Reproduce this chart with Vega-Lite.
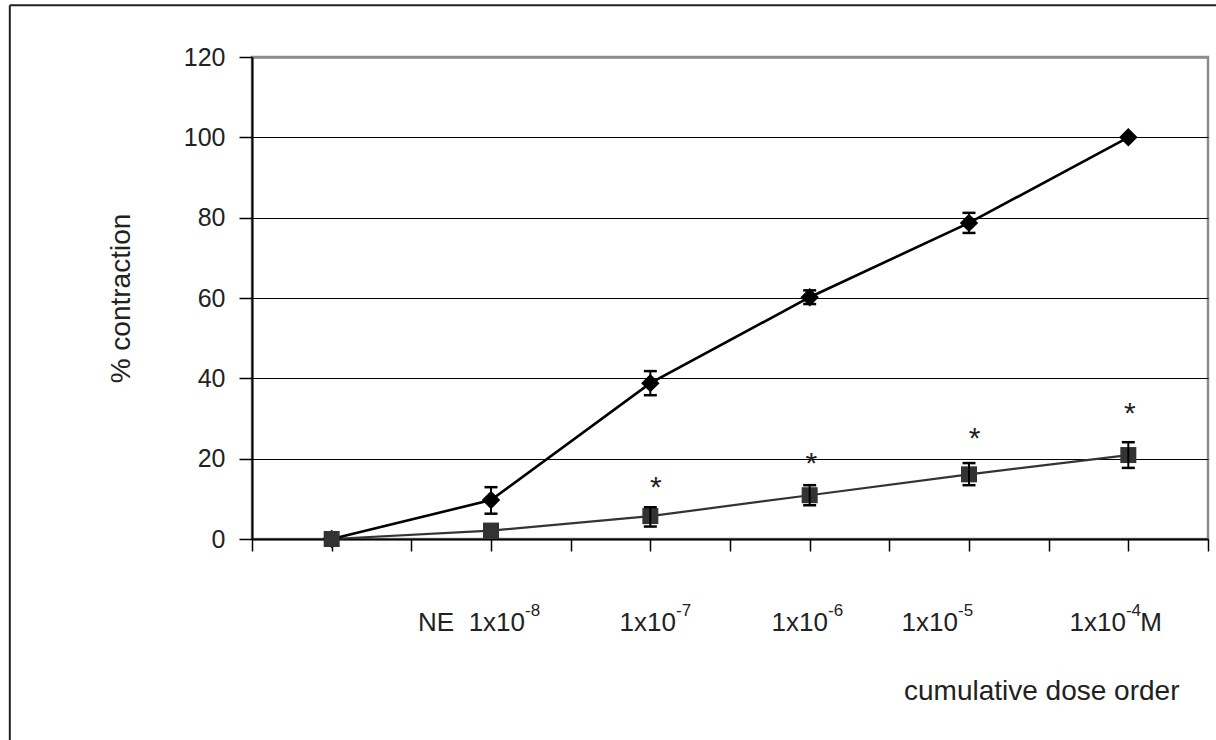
{
  "$schema": "https://vega.github.io/schema/vega-lite/v6.json",
  "width": 956,
  "height": 482,
  "autosize": {"type": "none"},
  "padding": {"left": 252, "top": 57, "right": 8, "bottom": 201},
  "background": "#ffffff",
  "config": {
    "view": {"stroke": "#8c8c8c", "strokeWidth": 2.5},
    "font": "Liberation Sans",
    "text": {"font": "Liberation Sans"}
  },
  "datasets": {
    "points": [
      {"dose": 1, "series": "A", "value": 0, "lo": null, "hi": null},
      {"dose": 3, "series": "A", "value": 9.7, "lo": 6.3, "hi": 12.9},
      {"dose": 5, "series": "A", "value": 38.8, "lo": 35.8, "hi": 41.8},
      {"dose": 7, "series": "A", "value": 60.2, "lo": 58.5, "hi": 61.9},
      {"dose": 9, "series": "A", "value": 78.7, "lo": 76.2, "hi": 81.2},
      {"dose": 11, "series": "A", "value": 100, "lo": null, "hi": null},
      {"dose": 1, "series": "B", "value": 0, "lo": null, "hi": null},
      {"dose": 3, "series": "B", "value": 2.1, "lo": null, "hi": null},
      {"dose": 5, "series": "B", "value": 5.7, "lo": 3.1, "hi": 7.9},
      {"dose": 7, "series": "B", "value": 10.9, "lo": 8.4, "hi": 13.4},
      {"dose": 9, "series": "B", "value": 16.1, "lo": 13.4, "hi": 18.9},
      {"dose": 11, "series": "B", "value": 20.9, "lo": 17.7, "hi": 24.1}
    ],
    "stars": [
      {"x": 5.07, "y": 10.5, "t": "*"},
      {"x": 7.02, "y": 16.4, "t": "*"},
      {"x": 9.07, "y": 22.7, "t": "*"},
      {"x": 11.02, "y": 28.9, "t": "*"}
    ],
    "baseLabels": [
      {"x": 3.427, "y": -22.9, "t": "1x10"},
      {"x": 5.322, "y": -22.9, "t": "1x10"},
      {"x": 7.23, "y": -22.9, "t": "1x10"},
      {"x": 8.862, "y": -22.9, "t": "1x10"},
      {"x": 10.97, "y": -22.9, "t": "1x10"}
    ],
    "supLabels": [
      {"x": 3.427, "y": -19.2, "t": "-8"},
      {"x": 5.322, "y": -19.2, "t": "-7"},
      {"x": 7.23, "y": -19.2, "t": "-6"},
      {"x": 8.862, "y": -19.2, "t": "-5"},
      {"x": 10.97, "y": -19.2, "t": "-4"}
    ],
    "leftLabels": [
      {"x": 2.084, "y": -22.9, "t": "NE", "s": 26},
      {"x": 11.15, "y": -22.9, "t": "M", "s": 26},
      {"x": 8.184, "y": -40.1, "t": "cumulative dose order", "s": 28}
    ],
    "frameV": [{"x": -3.04, "y": -60, "y2": 132.9}],
    "frameH": [{"x": -3.04, "x2": 13, "y": 132.9}]
  },
  "layer": [
    {
      "data": {"name": "points"},
      "transform": [{"filter": "datum.series === 'B'"}],
      "mark": {"type": "line", "color": "#333333", "strokeWidth": 2.2},
      "encoding": {
        "x": {
          "field": "dose", "type": "quantitative",
          "scale": {"domain": [0, 12], "nice": false, "zero": false},
          "axis": {
            "values": [0, 1, 2, 3, 4, 5, 6, 7, 8, 9, 10, 11, 12],
            "labels": false, "grid": false, "title": null,
            "domainColor": "#000000", "domainWidth": 2,
            "tickColor": "#000000", "tickSize": 12, "tickWidth": 1.5
          }
        },
        "y": {
          "field": "value", "type": "quantitative",
          "scale": {"domain": [0, 120], "nice": false},
          "axis": {
            "values": [0, 20, 40, 60, 80, 100, 120],
            "grid": true,
            "gridColor": {"condition": {"test": "datum.value === 120", "value": "#8c8c8c"}, "value": "#000000"},
            "gridWidth": {"condition": {"test": "datum.value === 120", "value": 2.5}, "value": 1},
            "domainColor": "#000000", "domainWidth": 2,
            "tickColor": "#000000", "tickSize": 13, "tickWidth": 1.5,
            "labelFontSize": 25, "labelColor": "#222222", "labelPadding": 14,
            "labelFont": "Liberation Sans",
            "title": "% contraction", "titleFontSize": 28, "titleFontWeight": "normal",
            "titleColor": "#222222", "titlePadding": 48, "titleFont": "Liberation Sans"
          }
        }
      }
    },
    {
      "data": {"name": "points"},
      "transform": [{"filter": "datum.series === 'A'"}],
      "mark": {"type": "line", "color": "#000000", "strokeWidth": 2.6},
      "encoding": {
        "x": {"field": "dose", "type": "quantitative"},
        "y": {"field": "value", "type": "quantitative"}
      }
    },
    {
      "data": {"name": "points"},
      "transform": [{"filter": "datum.series === 'A'"}],
      "mark": {"type": "point", "shape": "diamond", "filled": true, "color": "#000000", "size": 340, "opacity": 1},
      "encoding": {
        "x": {"field": "dose", "type": "quantitative"},
        "y": {"field": "value", "type": "quantitative"}
      }
    },
    {
      "data": {"name": "points"},
      "transform": [{"filter": "datum.series === 'B'"}],
      "mark": {"type": "point", "shape": "square", "filled": true, "color": "#333333", "size": 256, "opacity": 1},
      "encoding": {
        "x": {"field": "dose", "type": "quantitative"},
        "y": {"field": "value", "type": "quantitative"}
      }
    },
    {
      "data": {"name": "points"},
      "mark": {"type": "rule", "color": "#000000", "strokeWidth": 2},
      "encoding": {
        "x": {"field": "dose", "type": "quantitative"},
        "y": {"field": "lo", "type": "quantitative"},
        "y2": {"field": "hi"}
      }
    },
    {
      "data": {"name": "points"},
      "mark": {"type": "tick", "orient": "horizontal", "color": "#000000", "size": 13, "thickness": 2.5, "opacity": 1},
      "encoding": {
        "x": {"field": "dose", "type": "quantitative"},
        "y": {"field": "lo", "type": "quantitative"}
      }
    },
    {
      "data": {"name": "points"},
      "mark": {"type": "tick", "orient": "horizontal", "color": "#000000", "size": 13, "thickness": 2.5, "opacity": 1},
      "encoding": {
        "x": {"field": "dose", "type": "quantitative"},
        "y": {"field": "hi", "type": "quantitative"}
      }
    },
    {
      "data": {"name": "stars"},
      "mark": {"type": "text", "fontSize": 30, "align": "center", "baseline": "alphabetic", "color": "#222222"},
      "encoding": {
        "x": {"field": "x", "type": "quantitative"},
        "y": {"field": "y", "type": "quantitative"},
        "text": {"field": "t"}
      }
    },
    {
      "data": {"name": "baseLabels"},
      "mark": {"type": "text", "fontSize": 26, "align": "right", "baseline": "alphabetic", "color": "#222222"},
      "encoding": {
        "x": {"field": "x", "type": "quantitative"},
        "y": {"field": "y", "type": "quantitative"},
        "text": {"field": "t"}
      }
    },
    {
      "data": {"name": "supLabels"},
      "mark": {"type": "text", "fontSize": 17, "align": "left", "baseline": "alphabetic", "color": "#222222"},
      "encoding": {
        "x": {"field": "x", "type": "quantitative"},
        "y": {"field": "y", "type": "quantitative"},
        "text": {"field": "t"}
      }
    },
    {
      "data": {"name": "leftLabels"},
      "mark": {"type": "text", "align": "left", "baseline": "alphabetic", "color": "#222222"},
      "encoding": {
        "x": {"field": "x", "type": "quantitative"},
        "y": {"field": "y", "type": "quantitative"},
        "text": {"field": "t"},
        "size": {"field": "s", "type": "quantitative", "scale": null, "legend": null}
      }
    },
    {
      "data": {"name": "frameV"},
      "mark": {"type": "rule", "color": "#222222", "strokeWidth": 2},
      "encoding": {
        "x": {"field": "x", "type": "quantitative"},
        "y": {"field": "y", "type": "quantitative"},
        "y2": {"field": "y2"}
      }
    },
    {
      "data": {"name": "frameH"},
      "mark": {"type": "rule", "color": "#222222", "strokeWidth": 2},
      "encoding": {
        "x": {"field": "x", "type": "quantitative"},
        "x2": {"field": "x2"},
        "y": {"field": "y", "type": "quantitative"}
      }
    }
  ]
}
